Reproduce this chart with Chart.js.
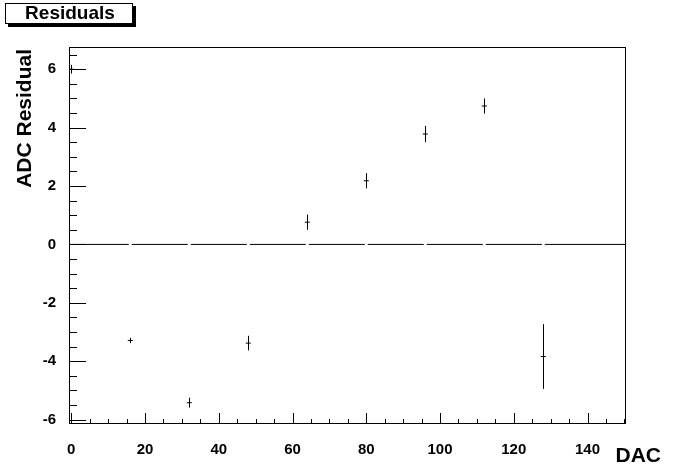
<!DOCTYPE html>
<html>
<head>
<meta charset="utf-8">
<title>Residuals</title>
<script src="https://cdn.jsdelivr.net/npm/chart.js@4.4.1/dist/chart.umd.min.js"></script>
<style>
  html, body { margin: 0; padding: 0; background: #ffffff; }
  #wrap { position: relative; width: 696px; height: 472px; }
</style>
</head>
<body>
<div id="wrap"><canvas id="chartResiduals" width="696" height="472"></canvas></div>
<script>
/* Residuals vs DAC, ROOT-style frame and error bars */

const DAC      = [0, 16, 32, 48, 64, 80, 96, 112, 128];
const RESIDUAL = [6.0, -3.29, -5.42, -3.38, 0.76, 2.18, 3.78, 4.74, -3.84];
const ERROR    = [0.15, 0.09, 0.17, 0.25, 0.26, 0.26, 0.28, 0.26, 1.11];

const X_TICKS = [0, 20, 40, 60, 80, 100, 120, 140];
const Y_TICKS = [-6, -4, -2, 0, 2, 4, 6];
const X_MINOR_STEP = 5;
const Y_MINOR_STEP = 0.5;

const X_MIN = -0.62, X_MAX = 150.43;
const Y_MIN = -6.15, Y_MAX = 6.76;

const INK = '#000000';
const FONT = "'Liberation Sans', Arial, Helvetica, sans-serif";

/* y = 0 reference line, broken where each data column sits */
const GAP = 0.4;
const zeroLine = [];
let segStart = X_MIN;
DAC.slice(1).forEach((c) => {
  zeroLine.push({ x: segStart, y: 0 }, { x: c - GAP, y: 0 }, { x: c, y: null });
  segStart = c + GAP;
});
zeroLine.push({ x: segStart, y: 0 }, { x: X_MAX, y: 0 });

function range(from, to, step) {
  const out = [];
  for (let v = from; v <= to + 1e-9; v += step) out.push(+v.toFixed(6));
  return out;
}

/* frame, inward ticks, error bars, title box and axis titles */
const rootStyle = {
  id: 'rootStyle',
  afterDatasetsDraw(chart) {
    const { ctx, chartArea: a, scales: { x, y } } = chart;
    ctx.save();
    ctx.strokeStyle = INK;
    ctx.lineWidth = 1;

    // frame
    ctx.strokeRect(a.left + 0.5, a.top + 0.5, a.right - a.left - 1, a.bottom - a.top - 1);

    // y ticks (inside, on the left edge)
    const yMajLen = 17, yMinLen = 8;
    ctx.beginPath();
    range(Math.ceil(Y_MIN / Y_MINOR_STEP) * Y_MINOR_STEP, Y_MAX, Y_MINOR_STEP).forEach((v) => {
      const py = Math.round(y.getPixelForValue(v)) + 0.5;
      const len = Y_TICKS.includes(v) ? yMajLen : yMinLen;
      ctx.moveTo(a.left, py);
      ctx.lineTo(a.left + len, py);
    });
    // x ticks (inside, on the bottom edge)
    const xMajLen = 11, xMinLen = 5;
    range(0, X_MAX, X_MINOR_STEP).forEach((v) => {
      const px = Math.round(x.getPixelForValue(v)) + 0.5;
      const len = X_TICKS.includes(v) ? xMajLen : xMinLen;
      ctx.moveTo(px, a.bottom);
      ctx.lineTo(px, a.bottom - len);
    });
    ctx.stroke();

    // vertical error bars
    ctx.beginPath();
    DAC.forEach((d, i) => {
      const px = Math.round(x.getPixelForValue(d)) + 0.5;
      ctx.moveTo(px, y.getPixelForValue(RESIDUAL[i] + ERROR[i]));
      ctx.lineTo(px, y.getPixelForValue(RESIDUAL[i] - ERROR[i]));
    });
    ctx.stroke();

    // title box with drop shadow
    ctx.fillStyle = INK;
    ctx.fillRect(8, 6, 128, 21);
    ctx.fillStyle = '#ffffff';
    ctx.fillRect(5, 3, 128, 21);
    ctx.strokeRect(5.5, 3.5, 127, 20);
    ctx.fillStyle = INK;
    ctx.font = 'bold 19px ' + FONT;
    ctx.textAlign = 'center';
    ctx.textBaseline = 'middle';
    ctx.fillText('Residuals', 70, 14);

    // axis titles
    ctx.font = 'bold 21px ' + FONT;
    ctx.textAlign = 'right';
    ctx.textBaseline = 'middle';
    ctx.fillText('DAC', 661, 456);

    ctx.translate(25, 49);
    ctx.rotate(-Math.PI / 2);
    ctx.textAlign = 'right';
    ctx.fillText('ADC Residual', 0, 0);
    ctx.restore();
  },
};

const ctxRes = document.getElementById('chartResiduals');
new Chart(ctxRes, {
  type: 'scatter',
  data: {
    datasets: [
      {
        label: 'zero',
        data: zeroLine,
        showLine: true,
        spanGaps: false,
        borderColor: INK,
        borderWidth: 1,
        pointRadius: 0,
        order: 2,
      },
      {
        label: 'Residuals',
        data: DAC.map((d, i) => ({ x: d, y: RESIDUAL[i] })),
        pointStyle: 'line',
        pointRadius: 2.5,
        borderColor: INK,
        borderWidth: 1,
        order: 1,
      },
    ],
  },
  options: {
    responsive: false,
    animation: false,
    devicePixelRatio: 1,
    layout: { padding: { left: 0, top: 47, right: 70, bottom: 0 } },
    plugins: { legend: { display: false }, tooltip: { enabled: false } },
    scales: {
      x: {
        type: 'linear',
        min: X_MIN,
        max: X_MAX,
        afterBuildTicks: (s) => { s.ticks = X_TICKS.map((v) => ({ value: v })); },
        afterFit: (s) => { s.height = 48; },
        grid: { display: false },
        border: { display: false },
        ticks: {
          color: INK,
          padding: 9,
          maxRotation: 0,
          font: { family: FONT, size: 15, weight: 'bold' },
        },
      },
      y: {
        type: 'linear',
        min: Y_MIN,
        max: Y_MAX,
        afterBuildTicks: (s) => { s.ticks = Y_TICKS.map((v) => ({ value: v })); },
        afterFit: (s) => { s.width = 69; },
        grid: { display: false },
        border: { display: false },
        ticks: {
          color: INK,
          padding: 5,
          font: { family: FONT, size: 15, weight: 'bold' },
        },
      },
    },
  },
  plugins: [rootStyle],
});
</script>
</body>
</html>
